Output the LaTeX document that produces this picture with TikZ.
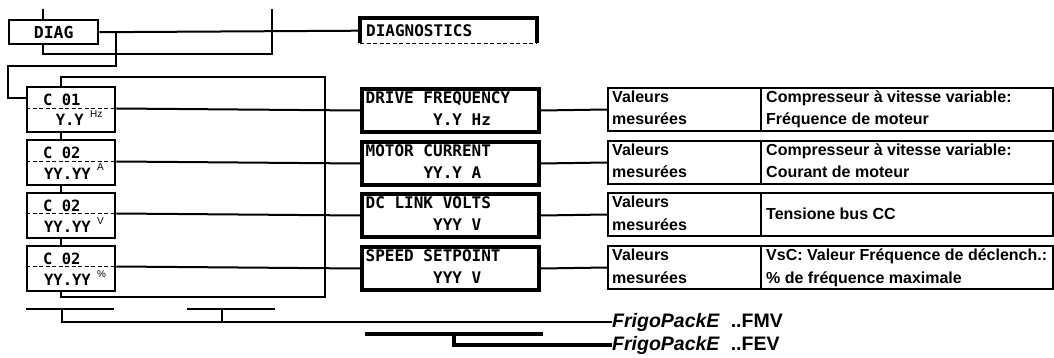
\documentclass[tikz,border=0pt]{standalone}
\usepackage{fontspec}
\setmainfont{Liberation Sans}
\newfontfamily\dispfont{DejaVu Sans Mono}
\newfontfamily\lcdfont{DejaVu Sans Mono}
\usetikzlibrary{calc}
\tikzset{
  conn/.style={line width=2pt},
  thickconn/.style={line width=4pt},
  lcdbox/.style={draw, line width=2.4pt, minimum width=88pt, minimum height=45pt, inner sep=0pt, anchor=north west},
  diagbox/.style={draw, line width=2.4pt, minimum width=89pt, minimum height=24pt, inner sep=0pt, anchor=north west},
  dispbox/.style={draw, line width=4pt, minimum width=177pt, minimum height=43pt, inner sep=0pt, anchor=north west},
  tabbox/.style={draw, line width=2pt, minimum width=445pt, minimum height=43pt, inner sep=0pt, anchor=north west},
  lcdtxt/.style={font=\lcdfont\bfseries\fontsize{15.5}{15.5}\selectfont, inner sep=0pt},
  suptxt/.style={font=\fontsize{10}{10}\selectfont, inner sep=0pt},
  disptxt/.style={font=\dispfont\bfseries\fontsize{16}{16}\selectfont, inner sep=0pt, anchor=base west},
  tabtxt/.style={font=\bfseries\fontsize{16}{16}\selectfont, inner sep=0pt, anchor=base west},
  fptxt/.style={font=\bfseries\fontsize{19.5}{19.5}\selectfont, inner sep=0pt, anchor=west},
}
\begin{document}
\begin{tikzpicture}[x=1pt,y=-1pt]
\useasboundingbox (0,0) rectangle (1054,358);

% DIAG box and its connectors
\node[diagbox, lcdtxt, font=\lcdfont\bfseries\fontsize{16.5}{16.5}\selectfont] (diag) at (8,19) {DIAG};
\coordinate (topA) at (43,9);
\coordinate (topB) at (272,9);
\coordinate (bj) at (272,54);
\draw[conn] (topA) -- (topA |- diag.north);
\draw[conn] (diag.south -| topA) |- (bj) -- (topB);

% DIAGNOSTICS box
\node[minimum width=177pt, minimum height=25pt, inner sep=0pt, anchor=north west] (dg) at (360,18) {};
\draw[line width=4pt] (dg.south west) |- (dg.north east) -- (dg.south east);
\draw[line width=1.5pt, dash pattern=on 4pt off 2.5pt] (dg.south west) -- (dg.south east);
\node[disptxt] (dgt) at ($(dg.north west)+(6,18.5)$) {DIAGNOSTICS};
\draw[conn] (diag.east) -- (dg.west);

\coordinate (j1) at ($(diag.east)+(17,0)$);
\draw[conn] (j1) |- (8,66) |- (26,98);

\coordinate (vx) at (61,0);

% menu rows
\foreach \i/\ct/\dt/\dv/\ca/\cb/\cbx/\cu/\la/\lb in {
  1/86/87/108.5/C 01/Y.Y/84/Hz/DRIVE FREQUENCY/\phantom{XXXXXXX}Y.Y Hz,
  2/139/140/161.5/C 02/YY.YY/91/A/MOTOR CURRENT/\phantom{XXXXXX}YY.Y A,
  3/192/192/213.5/C 02/YY.YY/91/V/DC LINK VOLTS/\phantom{XXXXXXX}YYY V,
  4/245/245/266.5/C 02/YY.YY/91/\%/SPEED SETPOINT/\phantom{XXXXXXX}YYY V}{
  \node[lcdbox] (c\i) at (26,\ct) {};
  \node[lcdtxt, anchor=base west] (c\i a) at ($(c\i.north west)+(17,19.5)$) {\ca};
  \node[lcdtxt, anchor=base east] (c\i b) at ($(c\i.north west)+(\cbx-26,40)$) {\cb};
  \node[suptxt, anchor=base west] (c\i u) at ($(c\i.north west)+(\cbx-26+6,32)$) {\cu};
  \draw[line width=1.5pt, dash pattern=on 4pt off 2.5pt] (c\i.west |- 0,\dv) -- (c\i.east |- 0,\dv);
  \node[dispbox] (d\i) at (360,\dt) {};
  \node[disptxt] (d\i a) at ($(d\i.north west)+(5.5,16.5)$) {\la};
  \node[disptxt] (d\i b) at ($(d\i.north west)+(5.5,38.5)$) {\lb};
  \draw[conn] (c\i.east |- 0,\dv) -- (d\i.west);
  \node[tabbox] (t\i) at (607,\dt) {};
  \draw[line width=2.2pt] ($(t\i.north west)+(154,0)$) coordinate (t\i m) -- (t\i m |- t\i.south);
  \draw[conn] (d\i.east) -- (t\i.west);
}

% table texts
\foreach \i in {1,2,3,4}{
  \node[tabtxt] (v\i) at ($(t\i.north west)+(5,15.5)$) {Valeurs};
  \node[tabtxt] (m\i) at ($(t\i.north west)+(5,38)$) {mesurées};
}
\node[tabtxt] (r1a) at ($(t1m)+(5,15.5)$) {Compresseur à vitesse variable:};
\node[tabtxt] (r1b) at ($(t1m)+(5,38)$) {Fréquence de moteur};
\node[tabtxt] (r2a) at ($(t2m)+(5,15.5)$) {Compresseur à vitesse variable:};
\node[tabtxt] (r2b) at ($(t2m)+(5,38)$) {Courant de moteur};
\node[tabtxt] (r3a) at ($(t3m)+(5,27)$) {Tensione bus CC};
\node[tabtxt] (r4a) at ($(t4m)+(5,15.5)$) {VsC: Valeur Fréquence de déclench.:};
\node[tabtxt] (r4b) at ($(t4m)+(5,38)$) {\% de fréquence maximale};

% connectors between LCD boxes
\draw[conn] (c1.south -| vx) -- (c2.north -| vx);
\draw[conn] (c2.south -| vx) -- (c3.north -| vx);
\draw[conn] (c3.south -| vx) -- (c4.north -| vx);
\draw[conn] (c1.north -| vx) |- (325,77) -- (325,297) -| (c4.south -| vx);

% bottom part
\node[fptxt] (fmv) at (612,322) {\textit{FrigoPackE}\ \ ..FMV};
\node[fptxt] (fev) at (612,345) {\textit{FrigoPackE}\ \ ..FEV};
\coordinate (b1l) at (26,309);
\coordinate (b1r) at (114,309);
\coordinate (b2l) at (187,309);
\coordinate (b2r) at (275,309);
\draw[conn] (b1l) -- (b1r);
\draw[conn] (b2l) -- (b2r);
\draw[conn] (62,309) |- (fmv.west);
\draw[conn] (222,309) -- (222,322);
\coordinate (k1) at (365,334);
\coordinate (k2) at (543,334);
\draw[thickconn] (k1) -- (k2);
\draw[thickconn] (454,334) |- (fev.west);
\end{tikzpicture}
\end{document}
